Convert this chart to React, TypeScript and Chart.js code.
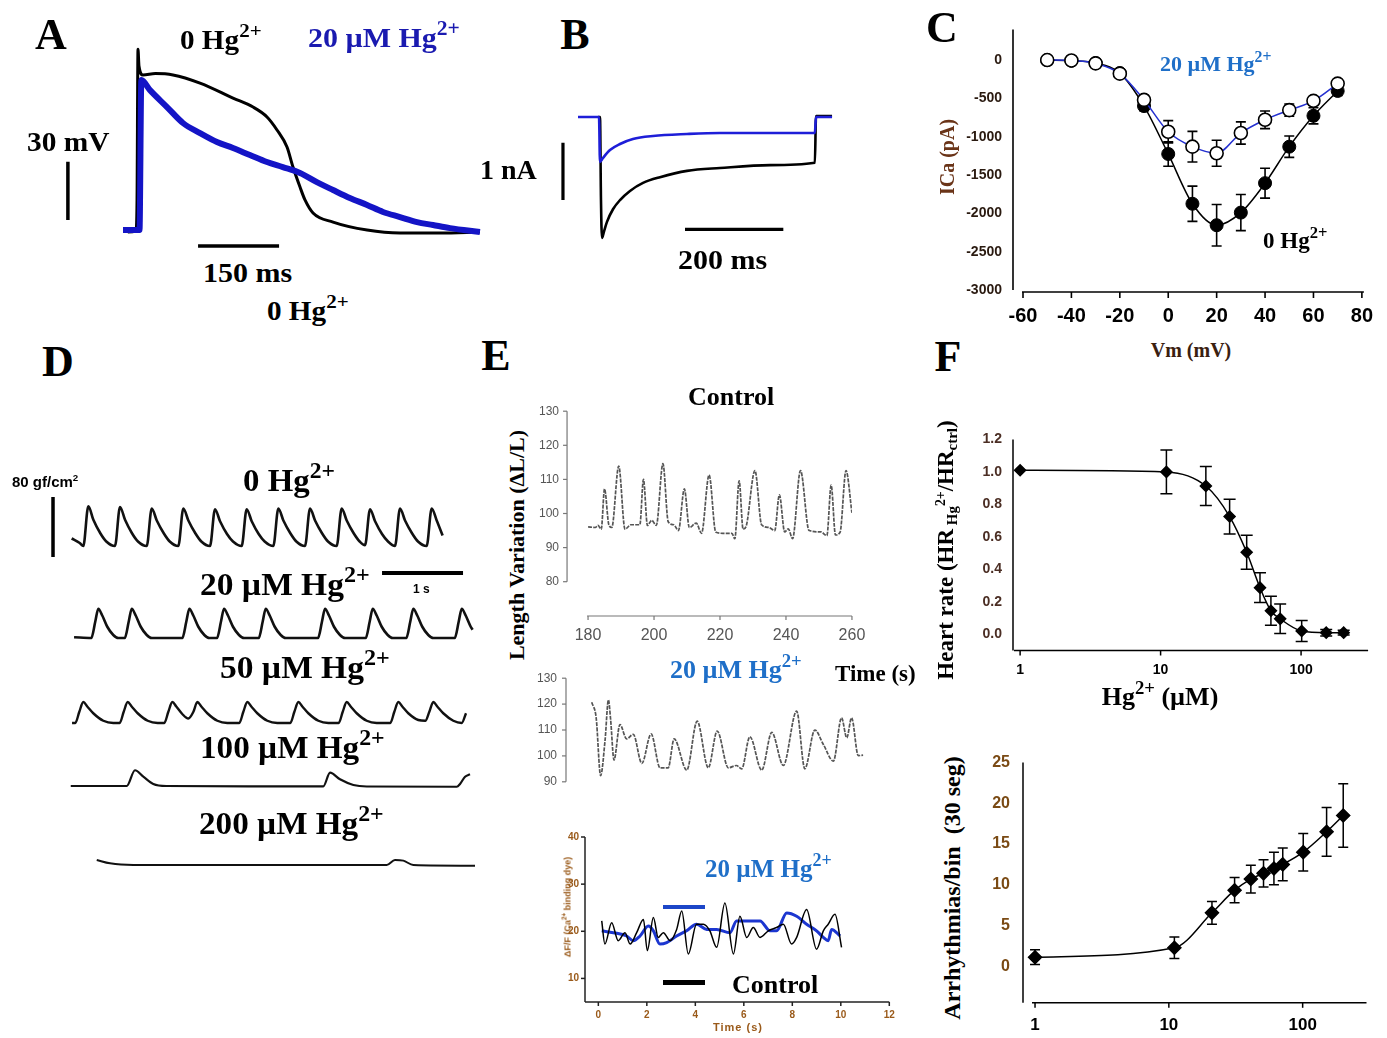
import React, { useEffect, useRef } from 'react';
import { Chart, registerables } from 'chart.js';

Chart.register(...registerables);

type Pt = [number, number];

// ---------------- Panel A: action potentials (time ms, membrane potential mV)
const apControl: Pt[] = [
  [9, -80], [24, -79.5], [26, -63.5], [27.8, 14], [29.6, 5.4], [37, 0.8], [60, 1.5], [92.6, 0.8],
  [142.6, -3.4], [203.7, -11.1], [240.8, -15.7], [266.7, -20.8], [285.2, -27.5], [303.7, -36.3],
  [314.8, -46.6], [327.8, -56.9], [337, -63.5], [351.9, -70.2], [389, -74.9], [452, -79], [513, -80.5],
  [587, -80.5], [661, -80],
];
const apHg20: Pt[] = [
  [0, -79], [22, -79], [30.6, -79], [34, -1.8], [50, -7], [81.5, -15.7], [111, -23.9], [142.6, -29.1],
  [174, -33.7], [203.7, -36.8], [235, -40.4], [266.7, -44], [296, -46.6], [327.8, -49.6], [359, -54.3],
  [389, -58.4], [420, -62.5], [452, -66.1], [481.5, -69.7], [513, -72.3], [544.5, -74.9], [574, -76.4],
  [605.6, -78], [661, -80],
];
const apScaleV: Pt[] = [[-102, -43.8], [-102, -73.8]]; // 30 mV
const apScaleH: Pt[] = [[139, -87.2], [289, -87.2]]; // 150 ms

// ---------------- Panel B: calcium current (time ms, current nA)
const icaControl: Pt[] = [
  [-4, 0], [0, 0], [2, -1.45], [4, -2.11], [8.1, -2.0], [14.2, -1.83], [26.4, -1.61], [40.7, -1.45],
  [61, -1.29], [87.5, -1.15], [122, -1.05], [177, -0.94], [244, -0.89], [345.8, -0.84], [437, -0.8],
  [439.4, 0.017], [472, 0.017],
];
const icaHg20: Pt[] = [
  [-44.7, 0], [-2, 0], [0, -0.785], [6.1, -0.716], [20.3, -0.576], [40.7, -0.471], [67, -0.384],
  [107.8, -0.332], [177, -0.297], [244, -0.279], [345.8, -0.279], [437, -0.279], [439.4, 0], [472, 0],
];
const icaScaleV: Pt[] = [[-75.3, -0.449], [-75.3, -1.449]]; // 1 nA
const icaScaleH: Pt[] = [[172.9, -1.96], [372.9, -1.96]]; // 200 ms

// ---------------- Panel C: I-V relation
const ivVm = [-50, -40, -30, -20, -10, 0, 10, 20, 30, 40, 50, 60, 70];
const ivControl = [0, -10, -40, -170, -600, -1225, -1875, -2155, -1990, -1606, -1130, -727, -403];
const ivControlErr = [0, 0, 0, 30, 60, 160, 230, 270, 235, 195, 140, 105, 60];
const ivHg20 = [0, -5, -43, -177, -520, -935, -1130, -1216, -952, -779, -653, -532, -307];
const ivHg20Err = [0, 0, 0, 30, 60, 145, 200, 170, 145, 115, 80, 50, 40];
const ivXTicks = [-60, -40, -20, 0, 20, 40, 60, 80];
const ivYTicks = [0, -500, -1000, -1500, -2000, -2500, -3000];

// ---------------- Panel D: contraction force (time s, force gf/cm2)
const forceCtrl: Pt[] = [
  [0.02, 10], [0.12, 4], [0.164, 0], [0.226, 53], [0.288, 35], [0.374, 17], [0.448, 6],
  [0.555, 0], [0.617, 52], [0.679, 35], [0.765, 17], [0.839, 6],
  [0.947, 0], [1.009, 50], [1.071, 34], [1.157, 17], [1.231, 6],
  [1.337, 0], [1.399, 50], [1.461, 34], [1.547, 17], [1.621, 6],
  [1.728, 0], [1.79, 49], [1.852, 33], [1.938, 16], [2.012, 6],
  [2.119, 0], [2.181, 49], [2.243, 33], [2.329, 16], [2.403, 6],
  [2.51, 0], [2.572, 50], [2.634, 34], [2.72, 17], [2.794, 6],
  [2.901, 0], [2.963, 50], [3.025, 34], [3.111, 17], [3.185, 6],
  [3.292, 0], [3.354, 50], [3.416, 34], [3.502, 17], [3.576, 6],
  [3.642, 1], [3.704, 49], [3.766, 33], [3.852, 16], [3.926, 6],
  [4.012, 0], [4.074, 50], [4.136, 34], [4.222, 17], [4.296, 6],
  [4.403, 0], [4.465, 50], [4.527, 34], [4.6, 14],
];
const forceHg20: Pt[] = [
  [0.05, 1], [0.263, 0], [0.312, 22], [0.349, 39], [0.398, 30], [0.46, 15], [0.534, 4], [0.596, 0],
  [0.676, 0], [0.725, 22], [0.762, 39], [0.811, 30], [0.873, 15], [0.947, 4], [1.009, 0],
  [1.387, 0], [1.436, 22], [1.473, 39], [1.522, 30], [1.584, 15], [1.658, 4], [1.72, 0],
  [1.815, 0], [1.864, 22], [1.901, 39], [1.95, 30], [2.012, 15], [2.086, 4], [2.148, 0],
  [2.33, 0], [2.379, 22], [2.416, 39], [2.465, 30], [2.527, 15], [2.601, 4], [2.663, 0],
  [3.062, 0], [3.111, 22], [3.148, 39], [3.197, 30], [3.259, 15], [3.333, 4], [3.395, 0],
  [3.651, 0], [3.7, 22], [3.737, 39], [3.786, 30], [3.848, 15], [3.922, 4], [3.984, 0],
  [4.152, 0], [4.201, 22], [4.238, 39], [4.287, 30], [4.349, 15], [4.423, 4], [4.485, 0],
  [4.75, 0], [4.799, 22], [4.836, 39], [4.885, 30], [4.947, 15], [4.97, 11],
];
const forceHg50: Pt[] = [
  [0.025, 0], [0.065, 0], [0.115, 15], [0.164, 28], [0.213, 22], [0.287, 13], [0.411, 3], [0.534, 0],
  [0.613, 0], [0.663, 15], [0.712, 28], [0.761, 22], [0.835, 13], [0.959, 3], [1.082, 0],
  [1.164, 0], [1.214, 15], [1.263, 28], [1.312, 22], [1.386, 12], [1.461, 6],
  [1.523, 15], [1.572, 28], [1.621, 22], [1.695, 13], [1.819, 3], [1.942, 0],
  [2.09, 0], [2.14, 15], [2.189, 28], [2.238, 22], [2.312, 13], [2.436, 3], [2.559, 0],
  [2.72, 0], [2.77, 15], [2.819, 28], [2.868, 22], [2.942, 13], [3.066, 3], [3.189, 0],
  [3.317, 0], [3.367, 15], [3.416, 28], [3.465, 22], [3.539, 13], [3.663, 3], [3.786, 0],
  [3.954, 0], [4.004, 15], [4.053, 28], [4.102, 22], [4.176, 13], [4.3, 4], [4.386, 3],
  [4.436, 15], [4.485, 28], [4.534, 22], [4.608, 13], [4.732, 3], [4.836, 0], [4.889, 13],
];
const forceHg100: Pt[] = [
  [0.009, 0], [0.7, 0], [0.802, 21], [0.905, 12.4], [1.028, 2.7], [1.194, 0], [2.2, -0.5],
  [3.127, -0.5], [3.21, 17.8], [3.333, 8.9], [3.498, 1.3], [3.663, -0.7], [4.774, -1],
  [4.815, 2.7], [4.877, 12.4], [4.938, 15.6],
];
const forceHg200: Pt[] = [
  [0.33, 6.7], [0.494, 2.2], [0.782, 0], [3.91, 0], [4.012, 6.7], [4.115, 5.8], [4.238, 0], [5.0, -0.9],
];
const forceScaleV: Pt[] = [[-0.21, 65.3], [-0.21, -14.7]]; // 80 gf/cm2
const forceScaleH: Pt[] = [[3.852, 86.7], [4.852, 86.7]]; // 1 s

// ---------------- Panel E: length variation (time s, %)
const lenControl: Pt[] = [
  [180, 96.1], [182.2, 95.9], [183, 96.5], [184, 95.4], [185, 107.2], [186.3, 96.7], [187.2, 95.9],
  [189.3, 113.9], [191.2, 95.4], [193, 96.7], [195.7, 96.7], [196.8, 110], [198, 96.5], [199.3, 98],
  [200.7, 96.5], [202.7, 114.6], [204.3, 97.6], [206, 96.7], [207.4, 95], [209.2, 107.2], [210.7, 95.9],
  [212.8, 97.2], [214.4, 94.2], [216.7, 111.3], [218.7, 94.6], [220.9, 94.2], [223.6, 94.2], [224.5, 92.6],
  [225.8, 109.6], [227, 95.4], [227.9, 96.2], [230.6, 112.6], [232.6, 96.7], [234.8, 95.9], [236.6, 95],
  [238, 105.5], [239.6, 94.6], [240.7, 95.5], [242, 92.6], [244.4, 112.6], [247, 95], [250.6, 94.6],
  [252.4, 93.5], [253.7, 108.3], [255, 93.7], [256.4, 94.5], [258.2, 112.6], [260, 100.2],
];
const lenHg20: Pt[] = [
  [181, 120.7], [182.2, 114.7], [183.4, 92.4], [184.6, 106.1], [185.5, 121.6], [186.1, 113.9], [187, 98.4],
  [188.6, 112.1], [190.4, 106.6], [192.2, 108.3], [194.5, 97.1], [197, 108.5], [199.4, 95.4], [201.6, 95.4],
  [203.2, 106.6], [206.6, 94.5], [209.4, 113.4], [212.4, 95.4], [214.8, 109.6], [217.8, 95.4], [220, 96.3],
  [221.4, 95], [223.6, 107.4], [226.8, 94.5], [229.5, 109.1], [232.6, 96.3], [236.2, 117.3], [238.4, 95],
  [241.1, 110], [243.4, 104.4], [246.1, 98], [248.3, 114.7], [249.7, 107], [251, 114.7], [252.8, 100.1],
  [254.1, 100.3],
];
const lenXTicks = [180, 200, 220, 240, 260];
const lenCtrlYTicks = [80, 90, 100, 110, 120, 130];
const lenHgYTicks = [90, 100, 110, 120, 130];

// ---------------- Panel E: calcium fluorescence (time s, dF/F)
const fluoHg20: Pt[] = [
  [0.14, 20.1], [0.62, 19.7], [1.17, 19], [1.44, 18], [1.72, 19], [2.06, 21.1], [2.27, 20.1], [2.54, 17.3],
  [2.82, 17.6], [3.23, 19], [3.64, 20.1], [4.05, 21.5], [4.47, 20.4], [4.88, 20.4], [5.43, 19.7], [5.7, 22.2],
  [6.12, 22.2], [6.67, 22.2], [7.08, 20.1], [7.35, 20.1], [7.77, 23.9], [8.18, 23.2], [8.59, 21.5], [9, 20.1],
  [9.28, 18.7], [9.48, 18], [9.62, 20.4], [9.97, 19],
];
const fluoControl: Pt[] = [
  [0.14, 22.2], [0.27, 17.3], [0.55, 21.8], [0.82, 18], [1.1, 19.7], [1.31, 17.3], [1.58, 19.7], [1.86, 22.5],
  [2.02, 15.9], [2.27, 22.9], [2.47, 18.7], [2.68, 19.7], [2.96, 18], [3.23, 20.4], [3.44, 24.3], [3.71, 15.2],
  [4.05, 21.5], [4.33, 21.5], [4.6, 20.1], [4.88, 16.6], [5.22, 26], [5.57, 15.2], [5.84, 23.2], [6.12, 18.7],
  [6.39, 20.8], [6.67, 18.7], [7.01, 20.1], [7.35, 20.8], [7.63, 21.5], [7.97, 17.3], [8.18, 18.7], [8.59, 24.6],
  [9, 16.2], [9.28, 20.1], [9.48, 21.5], [9.76, 23.6], [10.03, 16.6],
];
const fluoXTicks = [0, 2, 4, 6, 8, 10, 12];
const fluoYTicks = [10, 20, 30, 40];

// ---------------- Panel F: heart rate and arrhythmias vs Hg2+ (µM)
const hrConc = [1, 11, 21, 31, 41, 51, 61, 71, 101, 151, 201];
const hrValue = [1.01, 1.0, 0.913, 0.725, 0.505, 0.287, 0.145, 0.095, 0.02, 0.01, 0.01];
const hrErr = [0, 0.134, 0.12, 0.107, 0.104, 0.092, 0.089, 0.091, 0.064, 0.02, 0.015];
const hrYTicks = [0, 0.2, 0.4, 0.6, 0.8, 1.0, 1.2];
const arConc = [1, 11, 21, 31, 41, 51, 61, 71, 101, 151, 201];
const arValue = [1.1, 2.26, 6.55, 9.33, 10.7, 11.4, 12.0, 12.5, 14.0, 16.5, 18.5];
const arErr = [0.9, 1.33, 1.4, 1.55, 1.7, 1.67, 2.0, 2.0, 2.3, 3.0, 3.9];
const arYTicks = [0, 5, 10, 15, 20, 25];
const concTicks = [1, 10, 100];

// ---------------- helpers
const SERIF = '"Liberation Serif", "Times New Roman", serif';
const SANS = '"Liberation Sans", Arial, sans-serif';
const NARROW = '"Liberation Sans Narrow", "Liberation Sans", Arial, sans-serif';

const xy = (a: Pt[]) => a.map(([x, y]) => ({ x, y }));
const pairs = (xs: number[], ys: number[]) => xs.map((x, i) => ({ x, y: ys[i] }));

const trace = (data: Pt[], color: string, width: number, extra: any = {}) => ({
  data: xy(data),
  borderColor: color,
  borderWidth: width,
  pointRadius: 0,
  fill: false,
  cubicInterpolationMode: 'monotone',
  borderJoinStyle: 'round',
  ...extra,
});
const bar = (data: Pt[], width: number, extra: any = {}) => ({
  data: xy(data),
  borderColor: '#000',
  borderWidth: width,
  pointRadius: 0,
  fill: false,
  tension: 0,
  borderCapStyle: 'butt',
  ...extra,
});

function baseOptions(scales: any, padding: any = 0) {
  return {
    responsive: false,
    maintainAspectRatio: false,
    animation: false,
    events: [],
    layout: { padding, autoPadding: false },
    plugins: { legend: { display: false }, tooltip: { enabled: false }, title: { display: false } },
    scales,
  };
}
const hidden = (min: number, max: number, extra: any = {}) => ({ type: 'linear', display: false, min, max, ...extra });

function axis(o: any) {
  return {
    type: o.type || 'linear',
    display: o.display === undefined ? true : o.display,
    min: o.min,
    max: o.max,
    position: o.pos === 'x' ? 'bottom' : 'left',
    grid: { display: false, drawTicks: false },
    border: { display: false },
    ticks: {
      autoSkip: false,
      maxRotation: 0,
      minRotation: 0,
      padding: o.pad,
      color: o.color,
      font: o.font,
      callback: (v: any) => (o.fmt ? o.fmt(v) : String(v)),
    },
    afterBuildTicks: (s: any) => {
      s.ticks = o.ticks.map((value: number) => ({ value }));
    },
    afterFit: (s: any) => {
      if (o.pos === 'x') s.height = o.size;
      else s.width = o.size;
    },
  };
}

function axisLines(spec: any) {
  return {
    id: 'axisLines',
    afterDraw(chart: any) {
      const { ctx, chartArea: a, scales } = chart;
      ctx.save();
      ctx.strokeStyle = spec.color || '#000';
      ctx.lineWidth = spec.width || 1;
      const seg = (x1: number, y1: number, x2: number, y2: number) => {
        ctx.beginPath();
        ctx.moveTo(x1, y1);
        ctx.lineTo(x2, y2);
        ctx.stroke();
      };
      if (spec.y) {
        const x = a.left + (spec.y.dx || 0);
        seg(x, a.top, x, a.bottom + (spec.y.db || 0));
        if (spec.y.tick)
          scales.y.ticks.forEach((t: any) => {
            const p = scales.y.getPixelForValue(t.value);
            seg(x - spec.y.tick, p, x, p);
          });
      }
      if (spec.x) {
        const y = a.bottom + (spec.x.dy || 0);
        seg(a.left + (spec.x.dl || 0), y, a.right + (spec.x.dr || 0), y);
        if (spec.x.tick)
          scales.x.ticks.forEach((t: any) => {
            const p = scales.x.getPixelForValue(t.value);
            seg(p, y, p, y + spec.x.tick);
          });
      }
      ctx.restore();
    },
  };
}

const errorBars = {
  id: 'errorBars',
  beforeDatasetsDraw(chart: any) {
    const ctx = chart.ctx;
    chart.data.datasets.forEach((ds: any, i: number) => {
      if (!ds.errorBars) return;
      const meta = chart.getDatasetMeta(i);
      const ys = chart.scales[meta.yAxisID];
      ctx.save();
      ctx.strokeStyle = ds.errorColor || '#000';
      ctx.lineWidth = ds.errorWidth || 1.3;
      meta.data.forEach((pt: any, j: number) => {
        const e = ds.errorBars[j];
        if (!e) return;
        const v = ds.data[j].y;
        const y1 = ys.getPixelForValue(v + e);
        const y2 = ys.getPixelForValue(v - e);
        const c = ds.errorCap || 5;
        ctx.beginPath();
        ctx.moveTo(pt.x, y1);
        ctx.lineTo(pt.x, y2);
        ctx.moveTo(pt.x - c, y1);
        ctx.lineTo(pt.x + c, y1);
        ctx.moveTo(pt.x - c, y2);
        ctx.lineTo(pt.x + c, y2);
        ctx.stroke();
      });
      ctx.restore();
    });
  },
};

// ---------------- chart configurations (dataset listed first is drawn on top)
const cfgA = () => ({
  type: 'line',
  data: {
    datasets: [
      trace(apHg20, '#1414c6', 6),
      trace(apControl, '#000', 3),
      bar(apScaleV, 3.5),
      bar(apScaleH, 3.5),
    ],
  },
  options: baseOptions({ x: hidden(-190.7, 679.6), y: hidden(-90.3, 18.8) }),
});

const cfgB = () => ({
  type: 'line',
  data: {
    datasets: [
      trace(icaHg20, '#1e1ed8', 2.6),
      trace(icaControl, '#000', 2.6),
      bar(icaScaleV, 3.2),
      bar(icaScaleH, 3.2),
    ],
  },
  options: baseOptions({ x: hidden(-264.4, 508.5), y: hidden(-2.321, 0.471) }),
});

const cfgC = () => ({
  type: 'line',
  data: {
    datasets: [
      {
        data: pairs(ivVm, ivHg20),
        borderColor: '#2430d0',
        borderWidth: 1.5,
        pointRadius: 6.5,
        pointBackgroundColor: '#fff',
        pointBorderColor: '#000',
        pointBorderWidth: 1.6,
        cubicInterpolationMode: 'monotone',
        errorBars: ivHg20Err,
        errorCap: 5,
        errorWidth: 1.6,
      },
      {
        data: pairs(ivVm, ivControl),
        borderColor: '#000',
        borderWidth: 1.5,
        pointRadius: 6.5,
        pointBackgroundColor: '#000',
        pointBorderColor: '#000',
        pointBorderWidth: 1,
        cubicInterpolationMode: 'monotone',
        errorBars: ivControlErr,
        errorCap: 5,
        errorWidth: 1.6,
      },
    ],
  },
  options: baseOptions(
    {
      x: axis({ pos: 'x', min: -60, max: 80, ticks: ivXTicks, pad: 14, size: 40, color: '#000', font: { family: NARROW, size: 20, weight: 'bold' } }),
      y: axis({ pos: 'y', min: -3000, max: 400, ticks: ivYTicks, pad: 21, size: 93, color: '#2a1a10', font: { family: SANS, size: 14, weight: 'bold' } }),
    },
    { top: 28.2, right: 24, left: 0, bottom: 0 }
  ),
  plugins: [errorBars, axisLines({ color: '#000', width: 1.6, y: { dx: -10 }, x: { dy: 2, dl: -1, dr: 2, tick: 6 } })],
});

const D_BOX: [number, number, number, number] = [10, 440, 480, 440];
const D_BASE = [546, 638, 723, 786, 865];
const D_PX = 0.75;
const cfgD = () => {
  const scales: any = { x: hidden(-0.741, 5.185) };
  D_BASE.forEach((b, k) => {
    scales['y' + k] = hidden(-(D_BOX[1] + D_BOX[3] - b) / D_PX, (b - D_BOX[1]) / D_PX);
  });
  return {
    type: 'line',
    data: {
      datasets: [
        trace(forceCtrl, '#111', 2.6, { yAxisID: 'y0' }),
        trace(forceHg20, '#111', 2.6, { yAxisID: 'y1' }),
        trace(forceHg50, '#111', 2.4, { yAxisID: 'y2' }),
        trace(forceHg100, '#111', 2.2, { yAxisID: 'y3' }),
        trace(forceHg200, '#111', 2.0, { yAxisID: 'y4' }),
        bar(forceScaleV, 3.5, { yAxisID: 'y0' }),
        bar(forceScaleH, 4, { yAxisID: 'y1' }),
      ],
    },
    options: baseOptions(scales),
  };
};

const E_TICK_GRAY = '#555';
const cfgELen = () => ({
  type: 'line',
  data: { datasets: [trace(lenControl, '#555', 1.7, { borderDash: [4, 1.2] })] },
  options: baseOptions(
    {
      x: axis({ pos: 'x', min: 180, max: 260, ticks: lenXTicks, pad: 44.7, size: 68.3, color: E_TICK_GRAY, font: { family: SANS, size: 16 } }),
      y: axis({ pos: 'y', min: 80, max: 130, ticks: lenCtrlYTicks, pad: 29, size: 58, color: E_TICK_GRAY, font: { family: SANS, size: 12 } }),
    },
    { top: 12.3, right: 25, left: 0, bottom: 0 }
  ),
  plugins: [axisLines({ color: '#777', width: 1.2, y: { dx: -21, tick: 4 }, x: { dy: 34.3, dl: -1, dr: 0, tick: 4 } })],
});

const cfgELenHg = () => ({
  type: 'line',
  data: { datasets: [trace(lenHg20, '#555', 1.7, { borderDash: [4, 1.2] })] },
  options: baseOptions(
    {
      x: hidden(180, 260),
      y: axis({ pos: 'y', min: 90, max: 130, ticks: lenHgYTicks, pad: 31, size: 58, color: E_TICK_GRAY, font: { family: SANS, size: 12 } }),
    },
    { top: 7, right: 25, left: 0, bottom: 17 }
  ),
  plugins: [axisLines({ color: '#777', width: 1.2, y: { dx: -22, tick: 4 } })],
});

const FLUO_LABEL = '#9a5a1a';
const cfgEFluo = () => ({
  type: 'line',
  data: {
    datasets: [trace(fluoControl, '#000', 1.5), trace(fluoHg20, '#1c36d0', 3)],
  },
  options: baseOptions(
    {
      x: axis({ pos: 'x', min: -0.55, max: 12, ticks: fluoXTicks, pad: 7, size: 36, color: FLUO_LABEL, font: { family: SANS, size: 10, weight: 'bold' } }),
      y: axis({ pos: 'y', min: 5, max: 40, ticks: fluoYTicks, pad: 6, size: 45, color: FLUO_LABEL, font: { family: SANS, size: 10, weight: 'bold' } }),
    },
    { top: 10, right: 20.7, left: 0, bottom: 0 }
  ),
  plugins: [axisLines({ color: '#222', width: 1.5, y: { dx: 0, tick: 4 }, x: { dy: 0, tick: 4 } })],
});

const cfgHeart = () => ({
  type: 'line',
  data: {
    datasets: [
      {
        data: pairs(hrConc, hrValue),
        borderColor: '#000',
        borderWidth: 1.5,
        pointStyle: 'rectRot',
        pointRadius: 5.5,
        pointBackgroundColor: '#000',
        pointBorderColor: '#000',
        cubicInterpolationMode: 'monotone',
        errorBars: hrErr,
        errorCap: 6,
        errorWidth: 1.5,
      },
    ],
  },
  options: baseOptions(
    {
      x: axis({ pos: 'x', type: 'logarithmic', min: 0.89, max: 300, ticks: concTicks, pad: 11, size: 59.5, color: '#000', font: { family: SANS, size: 14, weight: 'bold' } }),
      y: axis({ pos: 'y', min: -0.1, max: 1.2, ticks: hrYTicks, pad: 11, size: 53, color: '#4b2e24', font: { family: SANS, size: 14, weight: 'bold' }, fmt: (v: number) => v.toFixed(1) }),
    },
    { top: 16, right: 18.9, left: 0, bottom: 0 }
  ),
  plugins: [errorBars, axisLines({ color: '#000', width: 1.5, y: { dx: 0 }, x: { dy: 0, dl: 1, tick: 5 } })],
});

const cfgArr = () => ({
  type: 'line',
  data: {
    datasets: [
      {
        data: pairs(arConc, arValue),
        borderColor: '#000',
        borderWidth: 1.5,
        pointStyle: 'rectRot',
        pointRadius: 6.5,
        pointBackgroundColor: '#000',
        pointBorderColor: '#000',
        cubicInterpolationMode: 'monotone',
        errorBars: arErr,
        errorCap: 5,
        errorWidth: 1.5,
      },
    ],
  },
  options: baseOptions(
    {
      x: axis({ pos: 'x', type: 'logarithmic', min: 0.813, max: 300, ticks: concTicks, pad: 12, size: 35.2, color: '#000', font: { family: SANS, size: 17, weight: 'bold' } }),
      y: axis({ pos: 'y', min: -4.5, max: 25, ticks: arYTicks, pad: 13, size: 53, color: '#7a4a14', font: { family: SANS, size: 16, weight: 'bold' } }),
    },
    { top: 15, right: 20.5, left: 0, bottom: 0 }
  ),
  plugins: [errorBars, axisLines({ color: '#000', width: 1.5, y: { dx: 0 }, x: { dy: 0, dl: 9, tick: 5 } })],
});

// ---------------- components
function ChartBox({ box, make }: { box: [number, number, number, number]; make: () => any }) {
  const ref = useRef<HTMLCanvasElement>(null);
  useEffect(() => {
    const chart = new Chart(ref.current as HTMLCanvasElement, make());
    return () => chart.destroy();
  }, []);
  const [left, top, width, height] = box;
  return (
    <canvas
      ref={ref}
      width={width}
      height={height}
      style={{ position: 'absolute', left, top, width, height, display: 'block' }}
    />
  );
}

const Sup = ({ children, s = 0.72 }: any) => (
  <span style={{ fontSize: `${s}em`, position: 'relative', top: '-0.6em', verticalAlign: 'baseline' }}>{children}</span>
);
const Sub = ({ children, s = 0.65 }: any) => (
  <span style={{ fontSize: `${s}em`, position: 'relative', top: '0.3em', verticalAlign: 'baseline' }}>{children}</span>
);
const Hg = () => (
  <>
    Hg<Sup>2+</Sup>
  </>
);

function Label({ x, y, size, children, color = '#000', anchor = 'left', rot = false, family = SERIF, weight = 700, sx = 1, ls }: any) {
  const tx = anchor === 'center' ? '-50%' : anchor === 'right' ? '-100%' : '0';
  const origin = rot || anchor !== 'left' ? 'center' : 'left center';
  return (
    <div
      style={{
        position: 'absolute',
        left: x,
        top: y,
        fontFamily: family,
        fontWeight: weight,
        fontSize: size,
        color,
        lineHeight: 1,
        whiteSpace: 'nowrap',
        letterSpacing: ls,
        transformOrigin: origin,
        transform: `translate(${tx}, -50%)${rot ? ' rotate(-90deg)' : ''}${sx !== 1 ? ` scaleX(${sx})` : ''}`,
      }}
    >
      {children}
    </div>
  );
}

const BLUE_A = '#1a1ab0';
const BLUE_T = '#1f6fc8';

export default function App() {
  return (
    <div style={{ position: 'absolute', left: 0, top: 0, width: 1387, height: 1038, background: '#fff', overflow: 'hidden' }}>
      <ChartBox box={[20, 40, 470, 212]} make={cfgA} />
      <ChartBox box={[470, 90, 380, 160]} make={cfgB} />
      <ChartBox box={[930, 0, 457, 330]} make={cfgC} />
      <ChartBox box={D_BOX} make={cfgD} />
      <ChartBox box={[530, 375, 380, 275]} make={cfgELen} />
      <ChartBox box={[530, 640, 380, 180]} make={cfgELenHg} />
      <ChartBox box={[540, 825, 370, 213]} make={cfgEFluo} />
      <ChartBox box={[960, 420, 427, 290]} make={cfgHeart} />
      <ChartBox box={[970, 740, 417, 298]} make={cfgArr} />

      {/* Panel letters */}
      <Label x={51} y={35} size={44} anchor="center">A</Label>
      <Label x={575} y={35} size={44} anchor="center">B</Label>
      <Label x={942} y={28} size={44} anchor="center">C</Label>
      <Label x={58} y={362} size={44} anchor="center">D</Label>
      <Label x={496} y={356} size={44} anchor="center">E</Label>
      <Label x={948} y={357} size={44} anchor="center">F</Label>

      {/* Panel A */}
      <Label x={180} y={40} size={27} sx={1.08}>0 <Hg /></Label>
      <Label x={308} y={38} size={28} sx={1.07} color={BLUE_A}>20 µM <Hg /></Label>
      <Label x={27} y={142} size={28} sx={1.05}>30 mV</Label>
      <Label x={203} y={273} size={28} sx={1.07}>150 ms</Label>
      <Label x={267} y={311} size={27} sx={1.08}>0 <Hg /></Label>

      {/* Panel B */}
      <Label x={480} y={170} size={28}>1 nA</Label>
      <Label x={678} y={260} size={28} sx={1.07}>200 ms</Label>

      {/* Panel C */}
      <Label x={1160} y={64} size={22} color={BLUE_T}>20 µM <Hg /></Label>
      <Label x={1263} y={240} size={23}>0 <Hg /></Label>
      <Label x={1191} y={350} size={20} anchor="center" color="#3a2010">Vm (mV)</Label>
      <Label x={947} y={157} size={20} anchor="center" rot color="#6a3418">ICa (pA)</Label>

      {/* Panel D */}
      <Label x={12} y={481} size={15} family={SANS}>80 gf/cm<Sup s={0.65}>2</Sup></Label>
      <Label x={243} y={480} size={31} sx={1.06}>0 <Hg /></Label>
      <Label x={200} y={584} size={31} sx={1.08}>20 µM <Hg /></Label>
      <Label x={413} y={589} size={12} family={SANS}>1 s</Label>
      <Label x={220} y={667} size={31} sx={1.08}>50 µM <Hg /></Label>
      <Label x={200} y={747} size={31} sx={1.07}>100 µM <Hg /></Label>
      <Label x={199} y={823} size={31} sx={1.07}>200 µM <Hg /></Label>

      {/* Panel E */}
      <Label x={517} y={545} size={22} anchor="center" rot>Length Variation (ΔL/L)</Label>
      <Label x={688} y={397} size={26}>Control</Label>
      <Label x={670} y={670} size={26} color={BLUE_T}>20 µM <Hg /></Label>
      <Label x={835} y={673} size={23}>Time (s)</Label>
      <Label x={705} y={868} size={25} color={BLUE_T}>20 µM <Hg /></Label>
      <Label x={732} y={985} size={26}>Control</Label>
      <div style={{ position: 'absolute', left: 663, top: 905, width: 42, height: 4, background: '#1c46c8' }} />
      <div style={{ position: 'absolute', left: 663, top: 980, width: 42, height: 5, background: '#000' }} />
      <Label x={568} y={907} size={9} anchor="center" rot family={SANS} color={FLUO_LABEL}>
        ΔF/F (Ca<Sup>2+</Sup> binding dye)
      </Label>
      <Label x={738} y={1027} size={11} anchor="center" family={SANS} color={FLUO_LABEL} ls="1px">Time (s)</Label>

      {/* Panel F */}
      <Label x={945} y={550} size={23} anchor="center" rot>
        Heart rate (HR<Sub> Hg</Sub><Sup s={0.6}>2+</Sup>/HR<Sub>ctrl</Sub>)
      </Label>
      <Label x={1160} y={697} size={26} anchor="center">
        <Hg /> (µM)
      </Label>
      <Label x={952} y={888} size={24} anchor="center" rot>
        Arrhythmias/bin{'\u00a0\u00a0'}(30 seg)
      </Label>
    </div>
  );
}
